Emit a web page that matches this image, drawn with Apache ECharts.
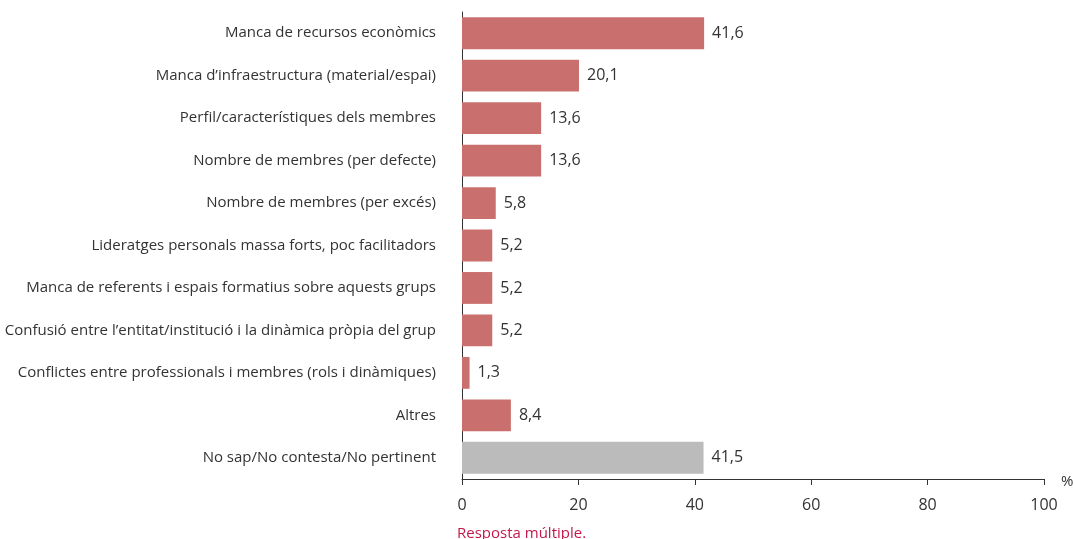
<!DOCTYPE html>
<html>
<head>
<meta charset="utf-8">
<script src="https://cdn.jsdelivr.net/npm/echarts@6/dist/echarts.min.js"></script>
<style>
  html, body { margin: 0; padding: 0; background: #fff; }
  #chart { width: 1074px; height: 539px; }
</style>
</head>
<body>
<div id="chart"></div>
<script>
// categories, top to bottom
const categories = [
  'Manca de recursos econòmics',
  'Manca d’infraestructura (material/espai)',
  'Perfil/característiques dels membres',
  'Nombre de membres (per defecte)',
  'Nombre de membres (per excés)',
  'Lideratges personals massa forts, poc facilitadors',
  'Manca de referents i espais formatius sobre aquests grups',
  'Confusió entre l’entitat/institució i la dinàmica pròpia del grup',
  'Conflictes entre professionals i membres (rols i dinàmiques)',
  'Altres',
  'No sap/No contesta/No pertinent'
];
const values = [41.6, 20.1, 13.6, 13.6, 5.8, 5.2, 5.2, 5.2, 1.3, 8.4, 41.5];
const xTicks = [0, 20, 40, 60, 80, 100];

const fontFamily = '"Open Sans", "Liberation Sans", sans-serif';
const barColor = '#c9706e';
const greyColor = '#bbbbbb';

const chart = echarts.init(document.getElementById('chart'));

const option = {
  animation: false,
  grid: {
    top: 12,
    bottom: 60,
    left: 462,
    right: 30
  },
  xAxis: {
    type: 'value',
    min: xTicks[0],
    max: xTicks[xTicks.length - 1],
    interval: 20,
    axisLine: { show: true, lineStyle: { color: '#333', width: 1 } },
    axisTick: { show: true, length: 6, lineStyle: { color: '#333' } },
    splitLine: { show: false },
    axisLabel: {
      color: '#333',
      fontSize: 16,
      fontFamily: fontFamily,
      margin: 18
    }
  },
  yAxis: {
    type: 'category',
    data: categories,
    inverse: true,
    axisLine: { show: true, lineStyle: { color: '#333', width: 1 } },
    axisTick: { show: false },
    axisLabel: {
      color: '#333',
      fontSize: 15,
      fontFamily: fontFamily,
      margin: 26
    }
  },
  series: [
    {
      type: 'bar',
      barCategoryGap: '25%',
      data: values.map(function (v, i) {
        return {
          value: v,
          itemStyle: { color: i === values.length - 1 ? greyColor : barColor }
        };
      }),
      label: {
        show: true,
        position: 'right',
        distance: 8,
        color: '#333',
        fontSize: 16,
        fontFamily: fontFamily,
        formatter: function (p) {
          return p.value.toFixed(1).replace('.', ',');
        }
      }
    }
  ],
  graphic: [
    {
      type: 'text',
      left: 1061,
      top: 474,
      style: { text: '%', fill: '#333', font: '15px ' + fontFamily }
    },
    {
      type: 'text',
      left: 457,
      top: 526,
      style: { text: 'Resposta múltiple.', fill: '#c2184a', font: '15px ' + fontFamily }
    }
  ]
};

chart.setOption(option);

window.addEventListener('resize', function () {
  chart.resize();
});
</script>
</body>
</html>
